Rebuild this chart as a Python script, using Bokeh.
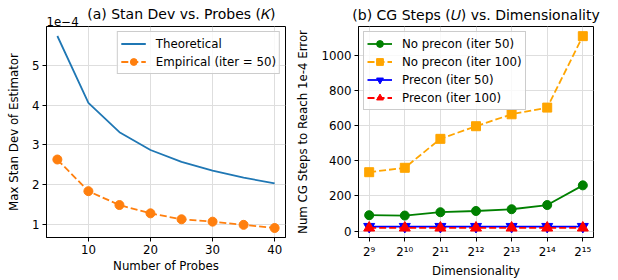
from bokeh.plotting import figure
from bokeh.layouts import row
from bokeh.models import Range1d, FixedTicker, Legend, LegendItem, Title
from bokeh.embed import file_html
from bokeh.resources import INLINE

# ---- data: panel (a) ----
probes = [5, 10, 15, 20, 25, 30, 35, 40]
theoretical = [5.75, 4.06, 3.32, 2.87, 2.57, 2.35, 2.17, 2.03]   # x 1e-4
empirical = [2.63, 1.83, 1.48, 1.27, 1.12, 1.06, 0.98, 0.90]     # x 1e-4

# ---- data: panel (b) ----
dims = [512, 1024, 2048, 4096, 8192, 16384, 32768]
dim_labels = ["2⁹", "2¹⁰", "2¹¹", "2¹²", "2¹³", "2¹⁴", "2¹⁵"]
noprecon_50 = [90, 88, 107, 114, 124, 148, 260]
noprecon_100 = [335, 360, 525, 597, 665, 703, 1110]
precon_50 = [25, 25, 25, 25, 25, 25, 25]
precon_100 = [18, 18, 18, 18, 18, 18, 18]

FONT = "DejaVu Sans"
GRID = "#dedede"
LW = 1.8
DASH = "7 3"
FS = "11.8px"


def style(p):
    p.outline_line_color = "black"
    p.outline_line_width = 1
    for ax in (p.xaxis, p.yaxis):
        ax.axis_line_color = "black"
        ax.major_tick_line_color = "black"
        ax.major_tick_out = 4
        ax.major_tick_in = 0
        ax.minor_tick_line_color = None
        ax.major_label_standoff = 3
        ax.major_label_text_font = FONT
        ax.major_label_text_font_size = FS
        ax.major_label_text_color = "black"
        ax.axis_label_text_font = FONT
        ax.axis_label_text_font_size = FS
        ax.axis_label_text_font_style = "normal"
        ax.axis_label_text_color = "black"
    p.xaxis.axis_label_standoff = 2
    p.xgrid.grid_line_color = GRID
    p.ygrid.grid_line_color = GRID
    p.title.text_font = FONT
    p.title.text_font_size = "14px"
    p.title.text_font_style = "normal"
    p.title.text_color = "black"
    p.background_fill_color = "white"
    p.border_fill_color = "white"


# ---- panel (a) ----
p1 = figure(width=293, height=280, output_backend="svg", toolbar_location=None,
            x_range=Range1d(3.25, 41.75), y_range=Range1d(0.66, 5.99),
            title="(a) Stan Dev vs. Probes (𝐾)",
            min_border_left=46, min_border_right=8, min_border_top=25, min_border_bottom=42)
style(p1)
p1.title.align = "right"
p1.title.offset = 10
p1.title.standoff = -14
p1.xaxis.ticker = FixedTicker(ticks=[10, 20, 30, 40])
p1.yaxis.ticker = FixedTicker(ticks=[1, 2, 3, 4, 5])
p1.xaxis.axis_label = "Number of Probes"
p1.yaxis.axis_label = "Max Stan Dev of Estimator"
p1.yaxis.axis_label_standoff = 8
p1.add_layout(Title(text="1e−4", align="left", text_font=FONT, text_font_size=FS,
                    text_font_style="normal", text_color="black", standoff=1), "above")

r_th = p1.line(probes, theoretical, line_color="#1f77b4", line_width=LW)
r_em_l = p1.line(probes, empirical, line_color="#ff7f0e", line_width=LW, line_dash=DASH)
r_em_m = p1.scatter(probes, empirical, size=9, marker="circle",
                    fill_color="#ff7f0e", line_color="#ff7f0e")
leg1 = Legend(items=[LegendItem(label="Theoretical", renderers=[r_th]),
                     LegendItem(label="Empirical (iter = 50)", renderers=[r_em_l, r_em_m])],
              location="top_right")
p1.add_layout(leg1, "center")

# ---- panel (b) ----
p2 = figure(width=325, height=280, output_backend="svg", toolbar_location=None,
            x_axis_type="log",
            x_range=Range1d(2 ** 8.7, 2 ** 15.3), y_range=Range1d(-37, 1165),
            title="(b) CG Steps (𝑈) vs. Dimensionality",
            min_border_left=60, min_border_right=25, min_border_top=25, min_border_bottom=42)
style(p2)
p2.title.align = "center"
p2.title.standoff = 8
p2.xaxis.ticker = FixedTicker(ticks=dims)
p2.xaxis.major_label_overrides = {d: lab for d, lab in zip(dims, dim_labels)}
p2.yaxis.ticker = FixedTicker(ticks=[0, 200, 400, 600, 800, 1000])
p2.xaxis.axis_label = "Dimensionality"
p2.yaxis.axis_label = "Num CG Steps to Reach 1e-4 Error"
p2.yaxis.axis_label_standoff = 8

a1 = p2.line(dims, noprecon_50, line_color="green", line_width=LW)
a2 = p2.scatter(dims, noprecon_50, size=9, marker="circle", fill_color="green", line_color="green")
b1 = p2.line(dims, noprecon_100, line_color="orange", line_width=LW, line_dash=DASH)
b2 = p2.scatter(dims, noprecon_100, size=9, marker="square", fill_color="orange", line_color="orange")
c1 = p2.line(dims, precon_50, line_color="blue", line_width=LW)
c2 = p2.scatter(dims, precon_50, size=11, marker="inverted_triangle", fill_color="blue", line_color="blue")
d1 = p2.line(dims, precon_100, line_color="red", line_width=LW, line_dash=DASH)
d2 = p2.scatter(dims, precon_100, size=11, marker="triangle", fill_color="red", line_color="red")
leg2 = Legend(items=[LegendItem(label="No precon (iter 50)", renderers=[a1, a2]),
                     LegendItem(label="No precon (iter 100)", renderers=[b1, b2]),
                     LegendItem(label="Precon (iter 50)", renderers=[c1, c2]),
                     LegendItem(label="Precon (iter 100)", renderers=[d1, d2])],
              location="top_left")
p2.add_layout(leg2, "center")

for leg in (leg1, leg2):
    leg.label_text_font = FONT
    leg.label_text_font_size = FS
    leg.label_text_color = "black"
    leg.border_line_color = "#cccccc"
    leg.border_line_alpha = 1
    leg.background_fill_alpha = 0.8
    leg.glyph_width = 25
    leg.glyph_height = 17
    leg.label_height = 17
    leg.spacing = 1
    leg.padding = 3
    leg.margin = 5
    leg.label_standoff = 10

layout = row(p1, p2)
open("out.html", "w").write(file_html(layout, INLINE))
